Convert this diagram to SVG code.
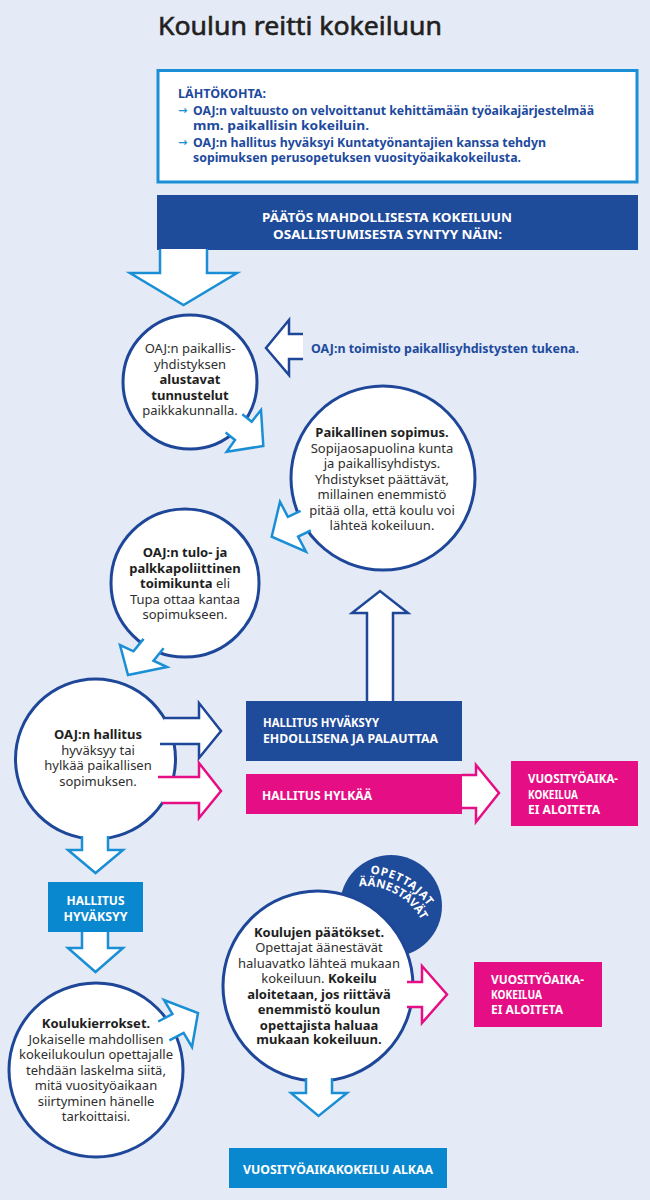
<svg xmlns="http://www.w3.org/2000/svg" width="650" height="1200" viewBox="0 0 650 1200">
<style>
text{font-family:"Noto Sans","Open Sans","DejaVu Sans",sans-serif}
.title{font-size:26px;fill:#231f20;stroke:#231f20;stroke-width:0.6px}
.info{font-size:12px;font-weight:bold;fill:#1d4a9e}
.arw{font-size:11px;font-weight:bold;fill:#1b8fd6}
.hd{font-size:12.5px;font-weight:bold;fill:#fff}
.lbl{font-size:11.5px;font-weight:bold;fill:#fff}
.ct{font-size:13px;fill:#2e2e2e;text-anchor:middle}
.b{font-weight:bold;fill:#1e1e1e}
.circ{fill:#fff;stroke:#1e4799;stroke-width:3}
.la{fill:#fff;stroke:#1b8fd6;stroke-width:2.5}
.da{fill:#fff;stroke:#1e4799;stroke-width:2.5}
.pa{fill:#fff;stroke:#e60e84;stroke-width:2.5}
.dbox{fill:#1f4b9b}
.lbox{fill:#0a88cf}
.pbox{fill:#e60e84}
</style>
<rect width="650" height="1200" fill="#e4eaf6"/>
<text class="title" x="158" y="35" textLength="284" lengthAdjust="spacingAndGlyphs">Koulun reitti kokeiluun</text>

<g id="nodes">
<g id="lahtokohta">
<rect x="158" y="70.5" width="479" height="111.5" fill="#fff" stroke="#1b8fd6" stroke-width="3"/>
<text class="info" x="178" y="98" textLength="88" lengthAdjust="spacingAndGlyphs">LÄHTÖKOHTA:</text>
<text class="arw" x="178" y="114">→</text>
<text class="info" x="193" y="114.5" textLength="401" lengthAdjust="spacingAndGlyphs">OAJ:n valtuusto on velvoittanut kehittämään työaikajärjestelmää</text>
<text class="info" x="193" y="130" textLength="176" lengthAdjust="spacingAndGlyphs">mm. paikallisin kokeiluin.</text>
<text class="arw" x="178" y="146">→</text>
<text class="info" x="193" y="146.5" textLength="353" lengthAdjust="spacingAndGlyphs">OAJ:n hallitus hyväksyi Kuntatyönantajien kanssa tehdyn</text>
<text class="info" x="193" y="162" textLength="328" lengthAdjust="spacingAndGlyphs">sopimuksen perusopetuksen vuosityöaikakokeilusta.</text>
</g>
<g id="paatos">
<rect class="dbox" x="157" y="195" width="481" height="55"/>
<text class="hd" x="387" y="222" text-anchor="middle" textLength="250" lengthAdjust="spacingAndGlyphs">PÄÄTÖS MAHDOLLISESTA KOKEILUUN</text>
<text class="hd" x="387.5" y="239" text-anchor="middle" textLength="229" lengthAdjust="spacingAndGlyphs">OSALLISTUMISESTA SYNTYY NÄIN:</text>
</g>
<g id="toimisto">
<text class="info" style="font-size:12.5px" x="311" y="353" textLength="268" lengthAdjust="spacingAndGlyphs">OAJ:n toimisto paikallisyhdistysten tukena.</text>
</g>
<g id="tunnustelut">
<circle class="circ" cx="190" cy="382" r="67"/>
<text class="ct"><tspan x="190" y="353">OAJ:n paikallis-</tspan><tspan x="190" y="368.5">yhdistyksen</tspan><tspan class="b" x="190" y="384">alustavat</tspan><tspan class="b" x="190" y="399.5">tunnustelut</tspan><tspan x="190" y="415">paikkakunnalla.</tspan></text>
</g>
<g id="sopimus">
<circle class="circ" cx="383" cy="478" r="92"/>
<text class="ct"><tspan class="b" x="382" y="437">Paikallinen sopimus.</tspan><tspan x="382" y="452.5">Sopijaosapuolina kunta</tspan><tspan x="382" y="468">ja paikallisyhdistys.</tspan><tspan x="382" y="483.5">Yhdistykset päättävät,</tspan><tspan x="382" y="499">millainen enemmistö</tspan><tspan x="382" y="514.5">pitää olla, että koulu voi</tspan><tspan x="382" y="530">lähteä kokeiluun.</tspan></text>
</g>
<g id="tupa">
<circle class="circ" cx="185" cy="583" r="74"/>
<text class="ct"><tspan class="b" x="185" y="557">OAJ:n tulo- ja</tspan><tspan class="b" x="185" y="572.5">palkkapoliittinen</tspan><tspan x="185" y="588"><tspan class="b">toimikunta</tspan> eli</tspan><tspan x="185" y="603.5">Tupa ottaa kantaa</tspan><tspan x="185" y="619">sopimukseen.</tspan></text>
</g>
<g id="hallitus">
<circle class="circ" cx="95.5" cy="759" r="80"/>
<text class="ct"><tspan class="b" x="98" y="739">OAJ:n hallitus</tspan><tspan x="98" y="754.5">hyväksyy tai</tspan><tspan x="98" y="770">hylkää paikallisen</tspan><tspan x="98" y="786">sopimuksen.</tspan></text>
</g>
<g id="ehdollisena">
<rect class="dbox" x="246" y="701" width="216" height="60"/>
<text class="lbl" x="263" y="727" textLength="116" lengthAdjust="spacingAndGlyphs">HALLITUS HYVÄKSYY</text>
<text class="lbl" x="263" y="743" textLength="175" lengthAdjust="spacingAndGlyphs">EHDOLLISENA JA PALAUTTAA</text>
</g>
<g id="hylkaa">
<rect class="pbox" x="246" y="774" width="216" height="40"/>
<text class="lbl" x="262" y="800" textLength="110" lengthAdjust="spacingAndGlyphs">HALLITUS HYLKÄÄ</text>
</g>
<g id="ei-aloiteta-1">
<rect class="pbox" x="511" y="761" width="127" height="65"/>
<text class="lbl" x="528" y="783" textLength="90" lengthAdjust="spacingAndGlyphs">VUOSITYÖAIKA-</text>
<text class="lbl" x="528" y="798.5" textLength="50" lengthAdjust="spacingAndGlyphs">KOKEILUA</text>
<text class="lbl" x="528" y="814" textLength="72" lengthAdjust="spacingAndGlyphs">EI ALOITETA</text>
</g>
<g id="hyvaksyy">
<rect class="lbox" x="48" y="882" width="95" height="50"/>
<text class="lbl" x="95.5" y="905" text-anchor="middle" textLength="58" lengthAdjust="spacingAndGlyphs">HALLITUS</text>
<text class="lbl" x="95.5" y="921" text-anchor="middle" textLength="64" lengthAdjust="spacingAndGlyphs">HYVÄKSYY</text>
</g>
<g id="koulukierrokset">
<circle class="circ" cx="96" cy="1070" r="87"/>
<text class="ct"><tspan class="b" x="96" y="1028">Koulukierrokset.</tspan><tspan x="96" y="1043.5">Jokaiselle mahdollisen</tspan><tspan x="96" y="1059">kokeilukoulun opettajalle</tspan><tspan x="96" y="1074.5">tehdään laskelma siitä,</tspan><tspan x="96" y="1090">mitä vuosityöaikaan</tspan><tspan x="96" y="1105.5">siirtyminen hänelle</tspan><tspan x="96" y="1121">tarkoittaisi.</tspan></text>
</g>
<g id="aanestavat">
<circle cx="391" cy="906" r="51" fill="#1f4b9b"/>
<path id="arc1" d="M322.2,886.6 A77,77 0 0 1 441.8,944.6" fill="none"/>
<path id="arc2" d="M329.2,897.1 A64,64 0 0 1 428.8,945.5" fill="none"/>
<text class="lbl" style="font-size:11.5px;letter-spacing:0.8px"><textPath href="#arc1" startOffset="53%" text-anchor="middle">OPETTAJAT</textPath></text>
<text class="lbl" style="font-size:11.5px;letter-spacing:0.3px"><textPath href="#arc2" startOffset="52%" text-anchor="middle">ÄÄNESTÄVÄT</textPath></text>
</g>
<g id="koulujen-paatokset">
<circle class="circ" cx="318" cy="986" r="95"/>
<text class="ct"><tspan class="b" x="319" y="936.5">Koulujen päätökset.</tspan><tspan x="319" y="952">Opettajat äänestävät</tspan><tspan x="319" y="967.5">haluavatko lähteä mukaan</tspan><tspan x="319" y="983">kokeiluun. <tspan class="b">Kokeilu</tspan></tspan><tspan class="b" x="319" y="998.5">aloitetaan, jos riittävä</tspan><tspan class="b" x="319" y="1014">enemmistö koulun</tspan><tspan class="b" x="319" y="1029.5">opettajista haluaa</tspan><tspan class="b" x="319" y="1044">mukaan kokeiluun.</tspan></text>
</g>
<g id="ei-aloiteta-2">
<rect class="pbox" x="474" y="962" width="128" height="65"/>
<text class="lbl" x="491" y="984" textLength="93" lengthAdjust="spacingAndGlyphs">VUOSITYÖAIKA-</text>
<text class="lbl" x="491" y="999" textLength="51" lengthAdjust="spacingAndGlyphs">KOKEILUA</text>
<text class="lbl" x="491" y="1014" textLength="72" lengthAdjust="spacingAndGlyphs">EI ALOITETA</text>
</g>
<g id="alkaa">
<rect class="lbox" x="229" y="1148" width="218" height="40"/>
<text class="lbl" x="338" y="1173.5" text-anchor="middle" textLength="190" lengthAdjust="spacingAndGlyphs">VUOSITYÖAIKAKOKEILU ALKAA</text>
</g>
</g>

<g id="connectors">
<path class="la" d="M160,249 V273 H130 L183.5,305 L237,273 H207 V249"/>
<path class="da" d="M303,334 H289 V320 L266,348 L289,375 V359 H303"/>
<path class="la" d="M242.3,414.3 L251.7,421.7 L261,410 L263.3,446 L226.7,451.7 L235,440 L225.6,432.6"/>
<path class="la" d="M300.6,510.9 L287.9,516.9 L280,501.7 L271.7,536.7 L306,551.7 L298.1,536.5 L310.8,530.5"/>
<path class="da" d="M367,701 V613 H352 L380,591 L408,613 H393 V701"/>
<path class="la" d="M143.6,638.9 L133.5,651.3 L120,645 L128,675 L167,667 L153.5,660.7 L163.6,648.3"/>
<path class="da" d="M164,718 H199 V703 L221,731 L199,758 V744 H160"/>
<path class="pa" d="M158,777 H199 V763 L221,791 L199,818 V803 H162"/>
<path class="pa" d="M462,775 H476 V765 L499,793 L476,822 V808 H462"/>
<path class="la" d="M82,836 V850 H68 L95.5,873 L123,850 H108 V836"/>
<path class="la" d="M82,932 V948 H68 L95.5,972 L123,948 H108 V932"/>
<path class="la" d="M158.2,1021.5 L172.4,1014.1 L164,1000 L198,1013 L192,1047 L183.6,1032.9 L169.4,1040.3"/>
<path class="pa" d="M407,982 H422 V966 L447,994.5 L422,1023 V1007 H407"/>
<path class="la" d="M306,1078 V1093 H291 L318.5,1116 L347,1093 H332 V1078"/>
</g>
</svg>
